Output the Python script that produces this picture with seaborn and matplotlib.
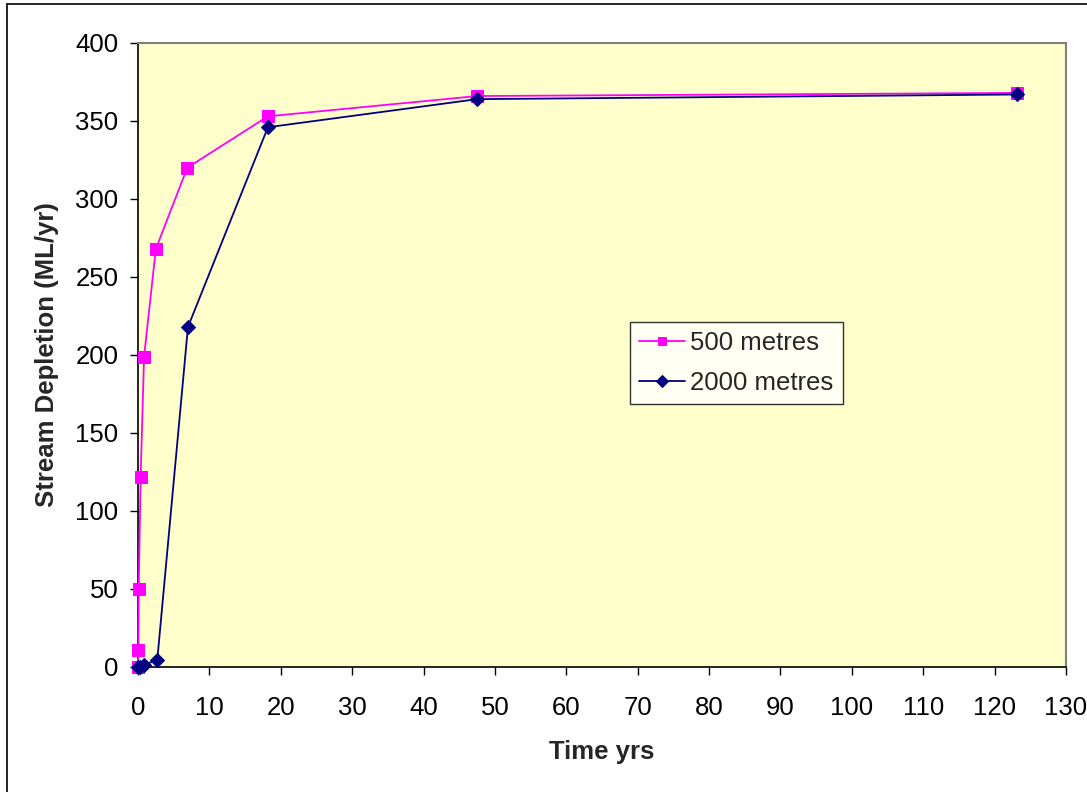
import matplotlib
matplotlib.use("Agg")
import matplotlib.pyplot as plt
import seaborn as sns
import pandas as pd
from matplotlib.lines import Line2D

sns.set_style("white")
plt.rcParams['font.family'] = ['Liberation Sans', 'DejaVu Sans']

time_500 = [0, 0.05, 0.1, 0.37, 0.85, 2.5, 6.9, 18.2, 47.5, 123.2]
depl_500 = [0, 11, 50, 122, 199, 268, 320, 353, 366, 368]
time_2000 = [0, 0.3, 0.9, 2.7, 7.0, 18.2, 47.5, 123.2]
depl_2000 = [0, 0.3, 1.5, 4.5, 218, 346, 364, 367]

series_names = ["500 metres", "2000 metres"]
x_ticks = list(range(0, 131, 10))
y_ticks = list(range(0, 401, 50))

df_a = pd.DataFrame({"t": time_500, "d": depl_500, "s": series_names[0]})
df_b = pd.DataFrame({"t": time_2000, "d": depl_2000, "s": series_names[1]})

fig = plt.figure(figsize=(10.87, 7.92), dpi=100)
ax = fig.add_axes([138/1087, 1-667/792, (1066-138)/1087, (667-43)/792])
ax.set_facecolor("#FFFFCC")

sns.lineplot(data=df_a, x="t", y="d", ax=ax, color="#FF00FF", marker="s",
             markersize=8, markeredgecolor="#FF00FF", linewidth=1.3, sort=False,
             label=series_names[0], clip_on=False, zorder=3)
sns.lineplot(data=df_b, x="t", y="d", ax=ax, color="#000080", marker="D",
             markersize=7, markeredgecolor="#000080", linewidth=1.3, sort=False,
             label=series_names[1], clip_on=False, zorder=4)

ax.set_xlim(0, 130)
ax.set_ylim(0, 400)
ax.set_xticks(x_ticks)
ax.set_yticks(y_ticks)
ax.tick_params(axis="both", labelsize=18.5, direction="out", length=6, width=1,
               colors="black", bottom=True, left=True)
ax.tick_params(axis="x", pad=15)
ax.tick_params(axis="y", pad=8)

for side in ["top", "right"]:
    ax.spines[side].set_color("#808080")
    ax.spines[side].set_linewidth(1.5)
for side in ["left", "bottom"]:
    ax.spines[side].set_color("black")
    ax.spines[side].set_linewidth(1.2)

ax.set_xlabel("Time yrs", fontsize=18.5, fontweight="bold", labelpad=14)
ax.set_ylabel("Stream Depletion (ML/yr)", fontsize=18.5, fontweight="bold", labelpad=12)

leg = ax.legend(loc="upper left", bbox_to_anchor=((630-138)/928, (667-322)/624),
                fontsize=18.5, frameon=True, fancybox=False, borderpad=0.35,
                handlelength=1.8, handletextpad=0.2, labelspacing=0.62,
                borderaxespad=0)
leg.get_frame().set_edgecolor("black")
leg.get_frame().set_linewidth(1)
leg.get_frame().set_facecolor("white")
for h in leg.legend_handles:
    h.set_markersize(6)

# figure border (left and top visible)
fig.add_artist(Line2D([7/1087, 7/1087], [0, 1-4/792], color="black", lw=1.2, transform=fig.transFigure))
fig.add_artist(Line2D([7/1087, 1], [1-4/792, 1-4/792], color="black", lw=1.2, transform=fig.transFigure))

fig.savefig("out.png", dpi=100, facecolor="white")
